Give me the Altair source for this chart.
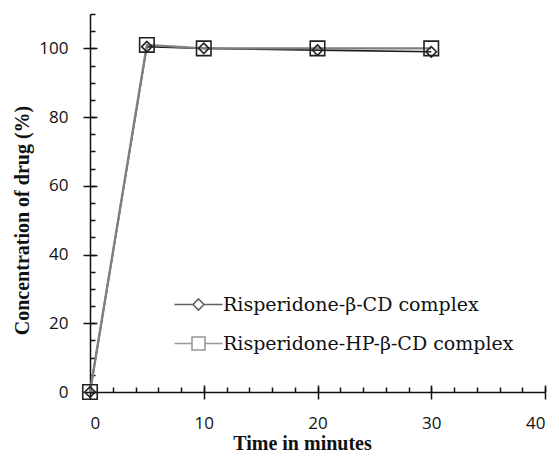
import altair as alt
import pandas as pd

# ---- data ----
time_min = [0, 5, 10, 20, 30]
beta_cd = [0, 100.5, 100, 99.5, 99]
hp_beta_cd = [0, 101, 100, 100, 100]
series_names = ["Risperidone-β-CD complex", "Risperidone-HP-β-CD complex"]

x_major = [0, 10, 20, 30, 40]
x_minor = list(range(0, 41, 2))
y_major = [0, 20, 40, 60, 80, 100]
y_minor = list(range(0, 111, 5))

df = pd.DataFrame({
    "time": time_min + time_min,
    "conc": beta_cd + hp_beta_cd,
    "series": [series_names[0]] * len(time_min) + [series_names[1]] * len(time_min),
})

TICK_FONT = "Open Sans"
SERIF = "Liberation Serif"
LEGEND_FONT = "DejaVu Serif"
INK = "#111111"

xs = alt.Scale(domain=[0, 40], nice=False, zero=False)
ys = alt.Scale(domain=[0, 110], nice=False)


def guide_axis(orient, values, size, offset):
    return alt.Axis(orient=orient, values=values, tickSize=size, offset=offset,
                    domain=False, labels=False, grid=False, title=None,
                    tickColor=INK, tickWidth=1.5)


# main lines with the labelled axes
lines = alt.Chart(df).mark_line().encode(
    x=alt.X("time:Q", scale=xs, axis=alt.Axis(
        orient="bottom", values=x_major, tickSize=7, tickWidth=1.5, tickColor=INK,
        domainColor=INK, domainWidth=1.5, grid=False,
        labelFont=TICK_FONT, labelFontSize=17, labelColor=INK, labelPadding=16,
        title="Time in minutes", titleFont=SERIF, titleFontSize=20, titleFontWeight="bold",
        titleColor=INK, titleX=212, titleY=57, titleBaseline="alphabetic")),
    y=alt.Y("conc:Q", scale=ys, axis=alt.Axis(
        orient="left", values=y_major, tickSize=7, tickWidth=1.5, tickColor=INK,
        domainColor=INK, domainWidth=1.5, grid=False,
        labelFont=TICK_FONT, labelFontSize=17, labelColor=INK, labelPadding=15,
        title="Concentration of drug (%)", titleFont=SERIF, titleFontSize=20,
        titleFontWeight="bold", titleColor=INK, titleAngle=270,
        titleX=-62, titleY=206, titleBaseline="alphabetic")),
    color=alt.Color("series:N", scale=alt.Scale(domain=series_names, range=["#1c1c1c", "#808080"]),
                    legend=None),
    strokeWidth=alt.StrokeWidth("series:N", scale=alt.Scale(domain=series_names, range=[1.6, 2.4]),
                                legend=None),
)

# markers, carrying the inward minor ticks
points = alt.Chart(df).mark_point(filled=False, color="#222222", strokeWidth=1.6, opacity=1).encode(
    x=alt.X("time:Q", scale=xs, axis=guide_axis("bottom", x_minor, 5, -5)),
    y=alt.Y("conc:Q", scale=ys, axis=guide_axis("left", y_minor, 5, -5)),
    shape=alt.Shape("series:N", scale=alt.Scale(domain=series_names, range=["diamond", "square"]),
                    legend=None),
    size=alt.Size("series:N", scale=alt.Scale(domain=series_names, range=[110, 210]), legend=None),
)

# invisible layer carrying the inward half of the major ticks
major_in = alt.Chart(df).mark_point(opacity=0).encode(
    x=alt.X("time:Q", scale=xs, axis=guide_axis("bottom", x_major, 7, -7)),
    y=alt.Y("conc:Q", scale=ys, axis=guide_axis("left", y_major, 7, -7)),
)

# legend with line + marker symbols
legend_paths = [
    "M-4.8,0L-1.1,0M1.1,0L4.8,0M0,-1.1L1.1,0L0,1.1L-1.1,0Z",
    "M-4.8,0L-1.3,0M1.3,0L4.8,0M-1.3,-1.3L1.3,-1.3L1.3,1.3L-1.3,1.3Z",
]
leg = dict(orient="none", legendX=99, legendY=281, symbolSize=100, symbolStrokeWidth=1.6,
           labelFont=LEGEND_FONT, labelFontSize=19, labelColor=INK, labelOffset=15,
           rowPadding=18, padding=0, title=None, labelLimit=400)
legend_layer = alt.Chart(df).transform_filter("false").mark_point(filled=False, strokeWidth=1.6).encode(
    shape=alt.Shape("series:N", scale=alt.Scale(domain=series_names, range=legend_paths),
                    legend=alt.Legend(**leg)),
    color=alt.Color("series:N", scale=alt.Scale(domain=series_names, range=["#1c1c1c", "#6e6e6e"]),
                    legend=alt.Legend(**leg)),
)

chart = alt.layer(lines, points, major_in, legend_layer).resolve_axis(
    x="independent", y="independent"
).resolve_scale(
    color="independent", shape="independent", size="independent", strokeWidth="independent"
).properties(
    width=455, height=378,
    autosize=alt.AutoSizeParams(type="none"),
    padding={"left": 82, "top": 6, "right": 6, "bottom": 63},
).configure_view(stroke=None)

chart.save("out.html", embed_options={"renderer": "svg", "actions": False})
